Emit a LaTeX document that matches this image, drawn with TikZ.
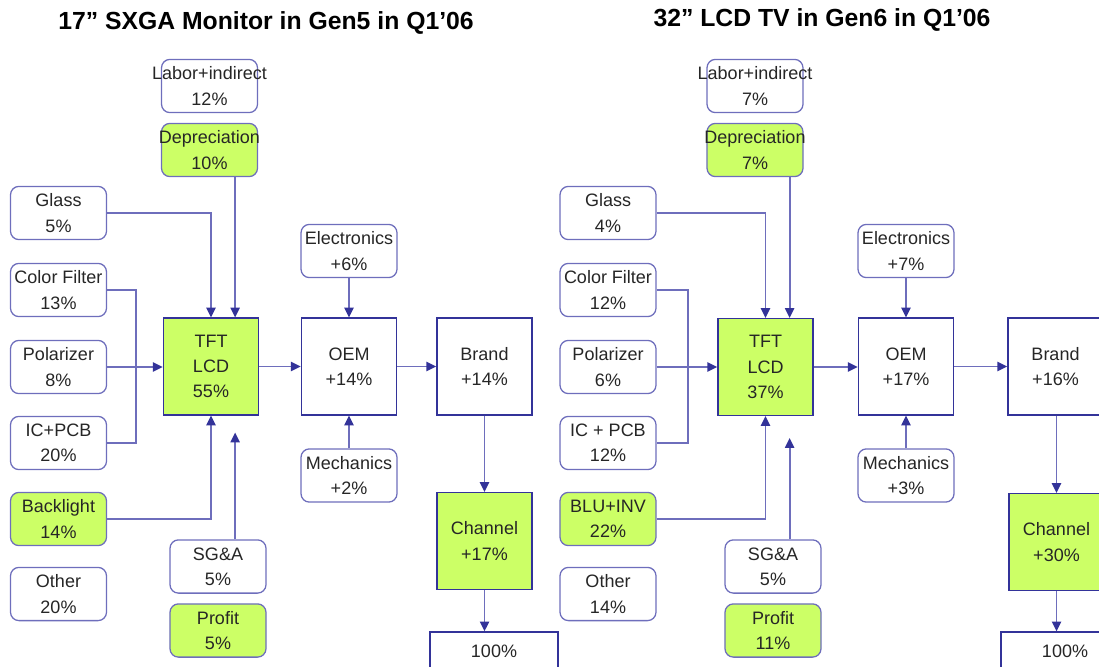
\documentclass[tikz,border=0pt]{standalone}
\usepackage{fontspec}
\setmainfont{Liberation Sans}
\usetikzlibrary{arrows.meta,calc}
\definecolor{costgreen}{RGB}{204,255,102}
\definecolor{edgeblue}{RGB}{51,51,153}
\definecolor{softblue}{RGB}{110,110,188}
\newcommand{\overhang}[1]{\makebox[0pt]{#1}}

\begin{document}
\begin{tikzpicture}[
  x=0.025cm, y=-0.025cm,
  font=\fontsize{12.8}{18}\selectfont,
  part/.style={draw=softblue, line width=0.9pt, rounded corners=6pt, fill=white,
               minimum width=2.4cm, minimum height=1.33cm, inner sep=1pt,
               align=center, text=black!85},
  hot/.style={fill=costgreen},
  stage/.style={draw=edgeblue, line width=0.9pt, minimum width=2.38cm,
                minimum height=2.42cm, inner sep=1pt, align=center, text=black!85},
  total/.style={stage, minimum width=3.2cm, minimum height=0.95cm},
  ttl/.style={font=\fontsize{17.6}{20}\selectfont\bfseries},
  ln/.style={draw=softblue, line width=1.4pt},
  arr/.style={ln, -{Triangle[length=7pt, width=6.5pt, color=edgeblue]}},
]
\useasboundingbox (0,0) rectangle (1099,666);
\clip (0,0) rectangle (1099,666);

%% ---- TITLES ----
\node[ttl] (t1) at (266,23) {17” SXGA Monitor in Gen5 in Q1’06};
\node[ttl] (t2) at (822,20) {32” LCD TV in Gen6 in Q1’06};

%% ---- LEFT: 17" monitor, Gen5 ----
\node[part]     (la)  at (209.5, 86) {\overhang{Labor+indirect}\\12\%};
\node[part,hot] (ld)  at (209.5,150) {\overhang{Depreciation}\\10\%};
\node[part]     (lg)  at (58.5,213)  {Glass\\5\%};
\node[part]     (lc)  at (58.5,290)  {Color Filter\\13\%};
\node[part]     (lp)  at (58.5,367)  {Polarizer\\8\%};
\node[part]     (li)  at (58.5,443)  {IC+PCB\\20\%};
\node[part,hot] (lb)  at (58.5,519)  {Backlight\\14\%};
\node[part]     (lo)  at (58.5,594)  {Other\\20\%};
\node[stage,hot] (ltft) at (211,366.5) {TFT\\LCD\\55\%};
\node[part]     (lsg) at (218,566.5) {SG\&A\\5\%};
\node[part,hot] (lpr) at (218,630.5) {Profit\\5\%};
\node[part]     (le)  at (349,251)   {Electronics\\+6\%};
\node[stage]    (loem) at (349,366.5) {OEM\\+14\%};
\node[part]     (lm)  at (349,475.5) {Mechanics\\+2\%};
\node[stage]    (lbr) at (484.5,366.5) {Brand\\+14\%};
\node[stage,hot] (lch) at (484.5,541) {Channel\\+17\%};
\node[total]    (lt)  at (494,651)   {100\%};

\coordinate (lq) at ($(ltft.north)!.5!(ltft.north east)$);
\coordinate (ls) at ($(ltft.south)!.5!(ltft.south east)+(0,17)$);
\draw[arr] (lg.east) -| (ltft.north);
\draw[arr] (ld.south -| lq) -- (lq);
\draw[ln]  (lc.east) -- ++(29,0) |- (li.east);
\draw[arr] (lp.east) -- (lp.east -| ltft.west);
\draw[arr] (lb.east) -| (ltft.south);
\draw[arr] (lsg.north -| ls) -- (ls);
\foreach \a/\b in {ltft/loem,le/loem,lm/loem,loem/lbr,lbr/lch}{\draw[arr](\a)--(\b);}
\draw[arr] (lch.south) -- (lch.south |- lt.north);

%% ---- RIGHT: 32" TV, Gen6 ----
\node[part]     (ra)  at (755, 86)   {\overhang{Labor+indirect}\\7\%};
\node[part,hot] (rd)  at (755,150)   {\overhang{Depreciation}\\7\%};
\node[part]     (rg)  at (608,213)   {Glass\\4\%};
\node[part]     (rc)  at (608,290)   {Color Filter\\12\%};
\node[part]     (rp)  at (608,367)   {Polarizer\\6\%};
\node[part]     (ri)  at (608,443)   {IC + PCB\\12\%};
\node[part,hot] (rb)  at (608,519)   {BLU+INV\\22\%};
\node[part]     (ro)  at (608,594)   {Other\\14\%};
\node[stage,hot] (rtft) at (765.5,367) {TFT\\LCD\\37\%};
\node[part]     (rsg) at (773,566.5) {SG\&A\\5\%};
\node[part,hot] (rpr) at (773,630.5) {Profit\\11\%};
\node[part]     (re)  at (906,251)   {Electronics\\+7\%};
\node[stage]    (roem) at (906,366.5) {OEM\\+17\%};
\node[part]     (rm)  at (906,475.5) {Mechanics\\+3\%};
\node[stage]    (rbr) at (1055.5,366.5) {Brand\\+16\%};
\node[stage,hot] (rch) at (1056.5,542) {Channel\\+30\%};
\node[total]    (rt)  at (1065,651)  {100\%};

\coordinate (rq) at ($(rtft.north)!.5!(rtft.north east)$);
\coordinate (rs) at ($(rtft.south)!.5!(rtft.south east)+(0,22)$);
\draw[arr] (rg.east) -| (rtft.north);
\draw[arr] (rd.south -| rq) -- (rq);
\draw[ln]  (rc.east) -- ++(31,0) |- (ri.east);
\draw[arr] (rp.east) -- (rp.east -| rtft.west);
\draw[arr] (rb.east) -| (rtft.south);
\draw[arr] (rsg.north -| rs) -- (rs);
\draw[arr] (rtft.east) -- (rtft.east -| roem.west);
\foreach \a/\b in {re/roem,rm/roem,roem/rbr}{\draw[arr](\a)--(\b);}
\draw[arr] (rbr.south -| rch.north) -- (rch.north);
\draw[arr] (rch.south) -- (rch.south |- rt.north);

\end{tikzpicture}
\end{document}
